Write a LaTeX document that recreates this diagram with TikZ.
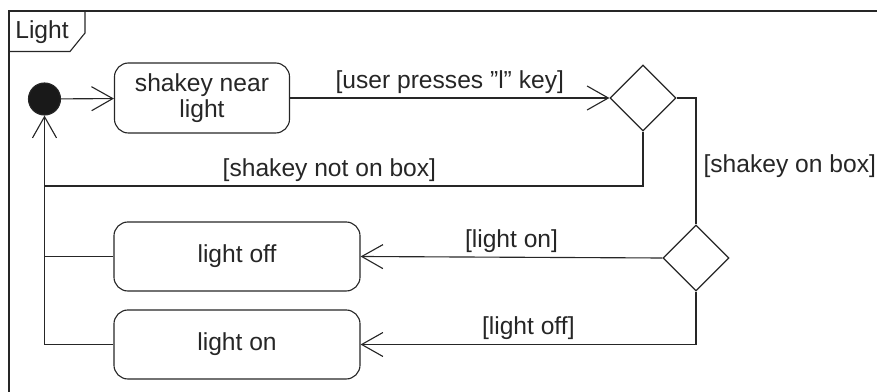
\documentclass[tikz,border=0pt]{standalone}
\usepackage{fontspec}
\setmainfont{Liberation Sans}[Ligatures=ResetAll]
\usepackage{tikz}
\usetikzlibrary{shapes.geometric,arrows.meta}

\begin{document}
\begin{tikzpicture}[x=0.025cm, y=-0.025cm, line width=0.8pt, black!85,
  font=\fontsize{17.5}{18}\selectfont,
  state/.style={draw, rounded corners=0.35cm, align=center, inner sep=0pt},
  decision/.style={draw, diamond, aspect=1, minimum size=1.65cm, inner sep=0pt},
  guard/.style={inner sep=0pt, text=black!85},
  trans/.style={-{Straight Barb[length=0.53cm, width=0.6cm]}}]
\clip (0,0) rectangle (877,392);
\draw (9,400) -- (9,11) -- (890,11);
\draw (9,51.5) -- (70,51.5) -- (85,33) -- (85,11);
\node[guard] (title) at (42,32) {Light};

\node[circle, fill=black!90, draw, minimum size=0.8cm, inner sep=0pt] (init) at (44.5,99) {};
\node[state, minimum width=4.375cm, minimum height=1.75cm] (near) at (202,98) {shakey near\\light};
\node[decision] (dec1) at (643,98) {};
\node[decision] (dec2) at (696,258) {};
\node[state, minimum width=6.15cm, minimum height=1.725cm] (off) at (237,256.5) {light off};
\node[state, minimum width=6.15cm, minimum height=1.725cm] (on) at (237,344.5) {light on};
\coordinate (back) at (44.5,186);

\draw[trans] (init) -- (near);
\draw[trans] (near) -- node[guard, above=2.8pt] {[user presses "l" key]} (dec1);
\draw (dec1.south) |- node[guard, above=2.8pt, pos=0.762] {[shakey not on box]} (back);
\draw (dec1.east) -| node[guard, right=5pt, pos=0.77] {[shakey on box]} (dec2.north);
\draw[trans] (dec2.west) -- node[guard, above=2.8pt] {[light on]} (off.east);
\draw[trans] (dec2.south) |- node[guard, above=2.8pt, pos=0.75] {[light off]} (on.east);
\draw (off.west) -- (off.west -| back);
\draw (on.west) -| (back);
\draw[trans] (back) -- (init.south);
\end{tikzpicture}
\end{document}
